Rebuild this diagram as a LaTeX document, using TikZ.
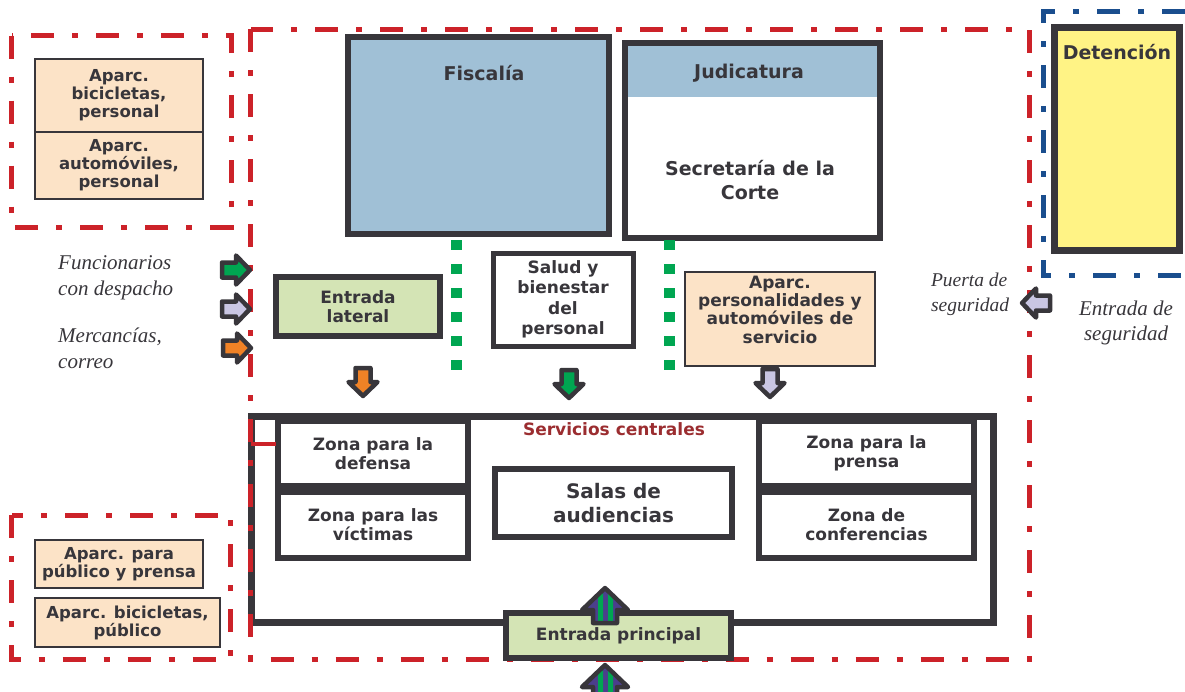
\documentclass[tikz,border=0pt]{standalone}
\usepackage{fontspec}
\usepackage{tikz}
\usetikzlibrary{positioning}

\newfontfamily\planfont{DejaVu Sans}
\newfontfamily\notefont{Liberation Serif}

\definecolor{ink}{HTML}{38363B}
\definecolor{zonered}{HTML}{CC2229}
\definecolor{zoneblue}{HTML}{1A4E8E}
\definecolor{fisblue}{HTML}{A0C0D6}
\definecolor{peach}{HTML}{FCE3C7}
\definecolor{leaf}{HTML}{D4E4B5}
\definecolor{detyellow}{HTML}{FFF385}
\definecolor{dotgreen}{HTML}{00A651}
\definecolor{servred}{HTML}{9B2D30}
\definecolor{arroworange}{HTML}{F08226}
\definecolor{arrowlav}{HTML}{C9C6E3}
\definecolor{arrowgreen}{HTML}{00A651}
\definecolor{arrowpurple}{HTML}{4B3F8C}

\begin{document}
\begin{tikzpicture}[x=1pt, y=-1pt]
      \tikzstyle{room}=[draw=ink, line width=6pt, inner sep=0pt, outer sep=0pt, align=center,
         text=ink, font=\planfont\bfseries\fontsize{17}{19}\selectfont]
      \tikzstyle{lot}=[draw=ink, line width=1.6pt, fill=peach, inner sep=0pt, outer sep=0pt,
         align=center, text=ink, font=\planfont\bfseries\fontsize{16.5}{18}\selectfont]
      \tikzstyle{roomtext}=[inner sep=0pt, align=center, text=ink,
         font=\planfont\bfseries\fontsize{19}{24}\selectfont]
      \tikzstyle{sidenote}=[inner sep=0pt, text=ink, font=\notefont\itshape\fontsize{21}{26}\selectfont]
      \tikzstyle{fence}=[line width=5pt, dash pattern=on 23pt off 18pt on 6pt off 18pt]
      \tikzstyle{greendots}=[dotgreen, line width=11pt, dash pattern=on 10pt off 14pt]
      \tikzset{
         flow/.pic={\draw[ink, line width=4.5pt, line join=round, fill=#1]
            (0,0) -- (-14,-14.5) -- (-14,-7.5) -- (-28,-7.5) -- (-28,7.5) -- (-14,7.5)
            -- (-14,14.5) -- cycle;},
         mainflow/.pic={
            \fill[arrowpurple] (0,0) -- (-22,-23) -- (-22,-12) -- (-35,-12) -- (-35,12)
               -- (-22,12) -- (-22,23) -- cycle;
            \begin{scope}
               \clip (0,0) -- (-22,-23) -- (-22,-12) -- (-35,-12) -- (-35,12)
                  -- (-22,12) -- (-22,23) -- cycle;
               \fill[arrowgreen] (-40,-7) rectangle (5,-2) (-40,3) rectangle (5,8);
            \end{scope}
            \draw[ink, line width=4.5pt, line join=round] (0,0) -- (-22,-23) -- (-22,-12)
               -- (-35,-12) -- (-35,12) -- (-22,12) -- (-22,23) -- cycle;}
      }

      \useasboundingbox (0,0) rectangle (1185,691);

      %parking, staff side
      \node[lot, minimum width=168, minimum height=73] (bicipers) at (119,95.5)
         {Aparc.\\bicicletas,\\personal};
      \node[lot, minimum width=168, minimum height=67, below=0pt of bicipers] (autopers)
         {Aparc.\\automóviles,\\personal};

      %parking, public side
      \node[lot, minimum width=168, minimum height=48] (publico) at (119,564)
         {Aparc. para\\público y prensa};
      \node[lot, minimum width=185, minimum height=49] (bicipub) at (127.5,622.5)
         {Aparc. bicicletas,\\público};

      %upper offices
      \node[room, fill=fisblue, minimum width=261, minimum height=197] (fiscalia) at (478.5,135.5) {};
      \node[roomtext] (fiscaliatxt) at (484,73) {Fiscalía};
      \node[room, minimum width=255, minimum height=195,
         path picture={\fill[fisblue] (path picture bounding box.north west)
            rectangle ([yshift=-54pt]path picture bounding box.north east);}]
         (judicatura) at (752.5,140.5) {};
      \node[roomtext] (judicaturatxt) at (749,73) {Judicatura};
      \node[roomtext] (secretaria) at (750,180) {Secretaría de la\\Corte};

      \node[room, line width=7pt, fill=detyellow, minimum width=124.5, minimum height=222.5]
         (detencion) at (1116.75,138.75) {};
      \node[roomtext] (detenciontxt) at (1117,52) {Detención};

      \draw[greendots] (456,240) -- (456,372);
      \draw[greendots] (669,240) -- (669,372);

      \node[room, line width=5.5pt, fill=leaf, minimum width=164, minimum height=59]
         (lateral) at (358,306.5) {Entrada\\lateral};
      \node[room, line width=5pt, fill=white, minimum width=140, minimum height=93,
         font=\planfont\bfseries\fontsize{17}{20.5}\selectfont]
         (salud) at (563,299.5) {Salud y\\bienestar\\del\\personal};
      \node[lot, minimum width=190, minimum height=94] (personalidades) at (780,319) {};
      \node[roomtext, font=\planfont\bfseries\fontsize{17}{18.3}\selectfont]
         (personalidadestxt) at (780,309.5) {Aparc.\\personalidades y\\automóviles de\\servicio};

      %central services
      \node[room, line width=7pt, minimum width=741.5, minimum height=206] (servicios) at (622.25,519) {};
      \node[roomtext, text=servred, font=\planfont\bfseries\fontsize{17}{19}\selectfont]
         (serviciostxt) at (614,429) {Servicios centrales};
      \node[room, minimum width=190, minimum height=65] (defensa) at (373,453.5) {Zona para la\\defensa};
      \node[room, minimum width=190, minimum height=66] (victimas) at (373,525) {Zona para las\\víctimas};
      \node[room, minimum width=215, minimum height=65] (prensa) at (866.5,453.5) {Zona para la\\prensa};
      \node[room, minimum width=215, minimum height=66] (conferencias) at (866.5,525) {Zona de\\conferencias};
      \node[room, minimum width=237, minimum height=68, font=\planfont\bfseries\fontsize{20}{24}\selectfont]
         (salas) at (613.5,503) {Salas de\\audiencias};

      %site limits
      \draw[fence, zonered] (11.5,35.5) rectangle (231,227);
      \draw[fence, zonered] (11.5,515) rectangle (230.5,659);
      \draw[fence, zonered] (250.5,29) rectangle (1029,659);
      \draw[zonered, line width=4pt] (250.5,444) -- (276,444);
      \draw[fence, zoneblue] (1185,11.5) -| (1043.5,275.5) -- (1185,275.5);

      \node[room, fill=leaf, minimum width=225, minimum height=45] (principal) at (618.5,635.5)
         {Entrada principal};

      %access arrows
      \pic at (250,270) {flow=arrowgreen};
      \pic at (250,309) {flow=arrowlav};
      \pic at (251,348) {flow=arroworange};
      \pic[rotate=-90] at (363,396) {flow=arroworange};
      \pic[rotate=-90] at (569,398) {flow=arrowgreen};
      \pic[rotate=-90] at (770,397) {flow=arrowlav};
      \pic[rotate=180] at (1022,303) {flow=arrowlav};
      \pic[rotate=90] at (605,588) {mainflow};
      \pic[rotate=90] at (605,665) {mainflow};

      \node[sidenote, anchor=west, align=left] (funcionarios) at (58,278) {Funcionarios\\con despacho};
      \node[sidenote, anchor=west, align=left] (mercancias) at (58,348.5) {Mercancías,\\correo};
      \node[sidenote, align=left, font=\notefont\itshape\fontsize{19.5}{25}\selectfont]
         (puerta) at (970,294.5) {Puerta de\\seguridad};
      \node[sidenote, align=center, font=\notefont\itshape\fontsize{21}{25}\selectfont]
         (entradaseg) at (1126,322.5) {Entrada de\\seguridad};
\end{tikzpicture}
\end{document}
